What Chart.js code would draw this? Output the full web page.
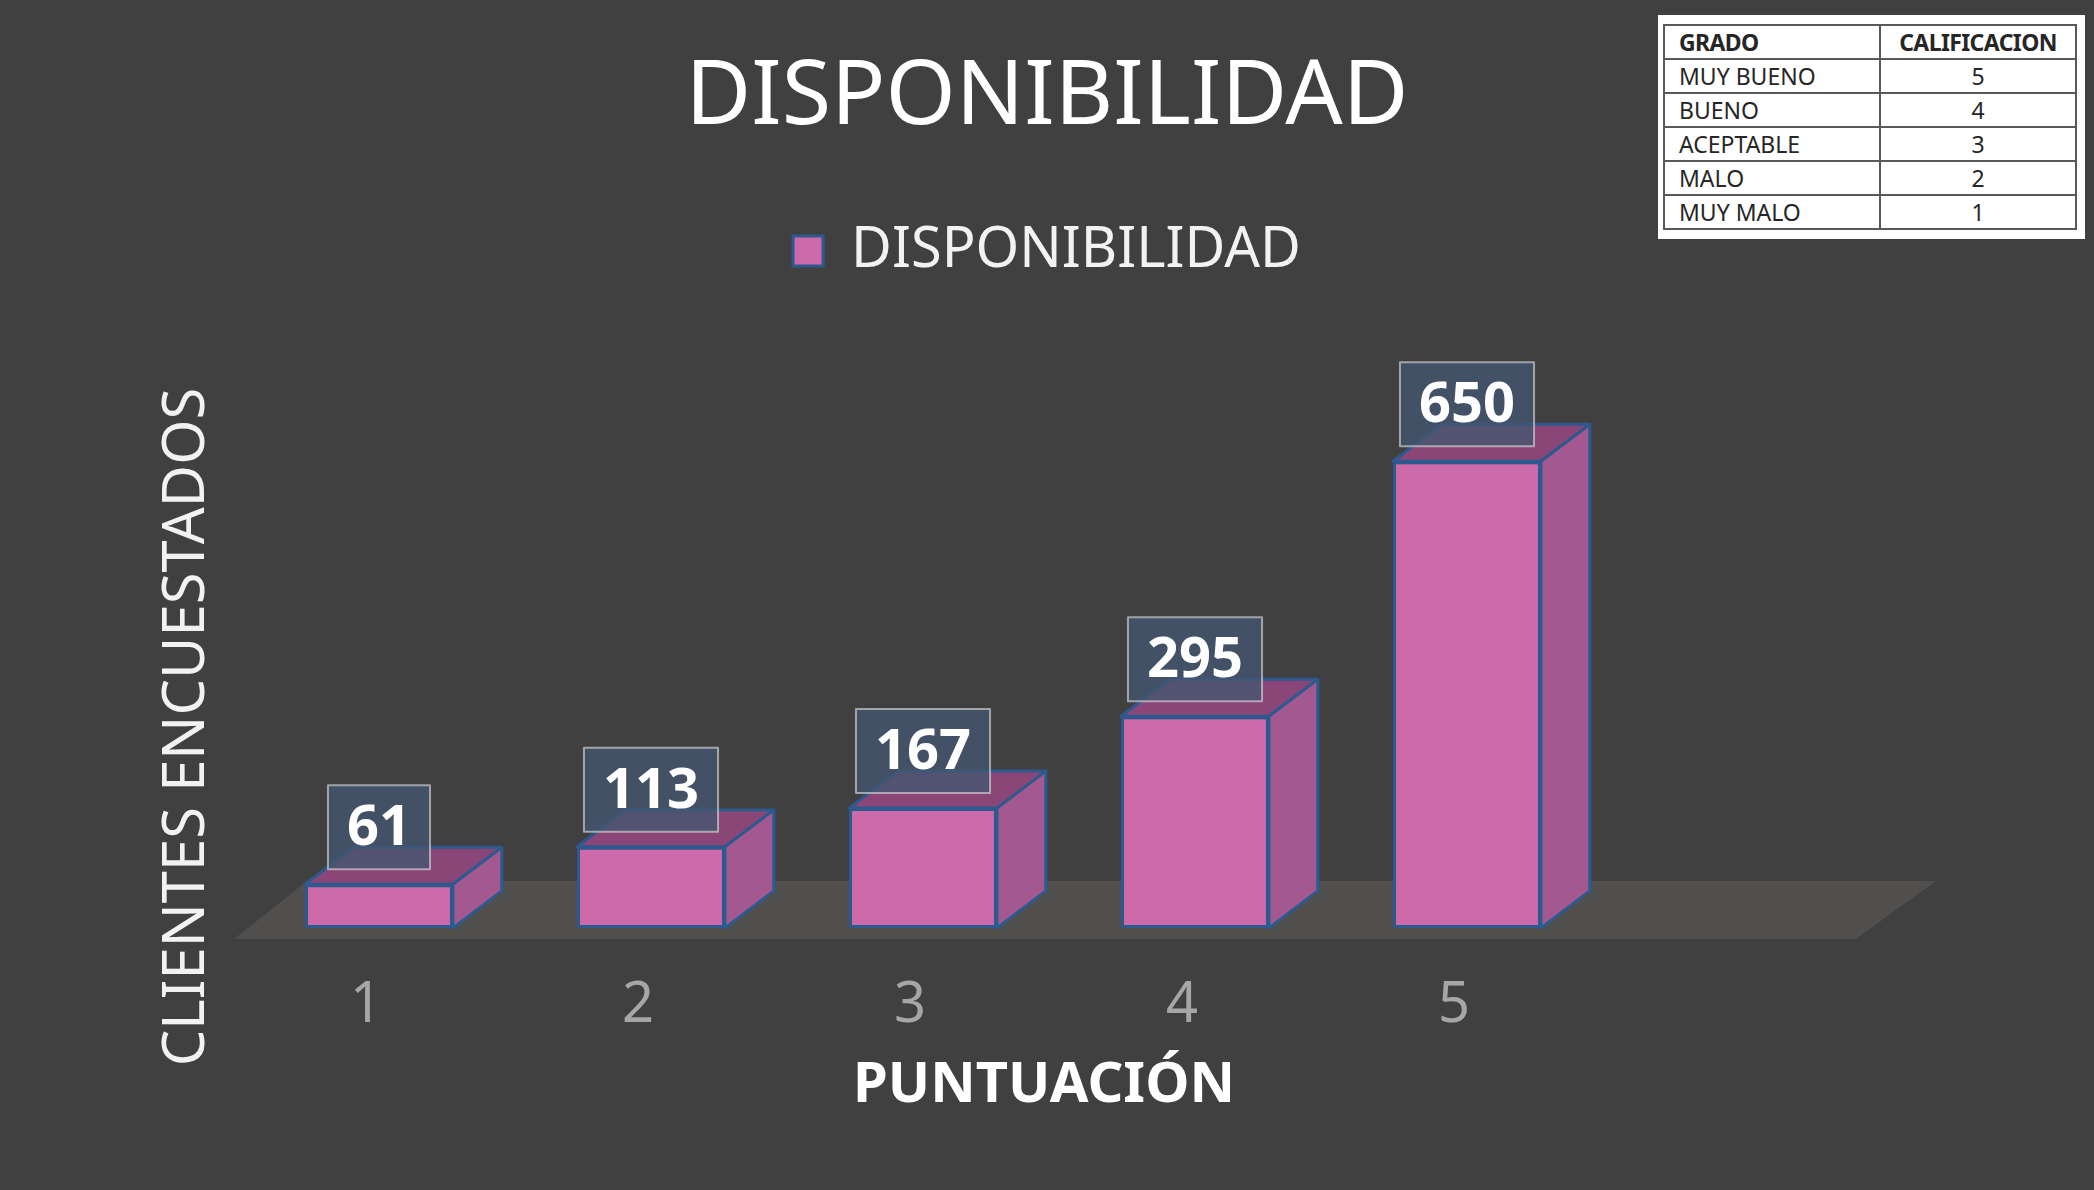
<!DOCTYPE html>
<html>
<head>
<meta charset="utf-8">
<title>Disponibilidad</title>
<script src="https://cdn.jsdelivr.net/npm/chart.js@4.4.1/dist/chart.umd.min.js"></script>
<style>
  html, body { margin: 0; padding: 0; background: #404040; }
  #wrap { position: relative; width: 2094px; height: 1190px; overflow: hidden; }
  #grafico { position: absolute; left: 0; top: 0; }
  #tabla {
    position: absolute; left: 1658px; top: 15px; width: 427px; height: 224px;
    background: #fff; box-sizing: border-box; padding: 9px 8px 9px 5px;
  }
  #tabla table {
    width: 414px; height: 206px; border-collapse: collapse;
    font-family: "Noto Sans", sans-serif; font-size: 23px; color: #262626;
  }
  #tabla td { border: 2px solid #595959; padding: 0 0 0 14px; line-height: 1; white-space: nowrap; }
  #tabla td.num { text-align: center; padding: 0; }
  #tabla tr.cab td { font-weight: bold; letter-spacing: -0.6px; }
</style>
</head>
<body>
<div id="wrap">
  <canvas id="grafico" width="2094" height="1190"></canvas>
  <div id="tabla"><table id="tablaBody"></table></div>
</div>
<script>
// datos del grafico
const categorias = ['1', '2', '3', '4', '5'];
const clientes = [61, 113, 167, 295, 650];
const serieNombre = 'DISPONIBILIDAD';
const tituloX = 'PUNTUACIÓN';
const tituloY = 'CLIENTES ENCUESTADOS';

// tabla de calificacion
const tablaCabecera = ['GRADO', 'CALIFICACION'];
const tablaGrado = ['MUY BUENO', 'BUENO', 'ACEPTABLE', 'MALO', 'MUY MALO'];
const tablaCalif = [5, 4, 3, 2, 1];

// colores
const colorFrente = '#cc6aaa';
const colorTapa = '#8a4677';
const colorLado = '#a3598f';
const colorBorde = '#2d5a8e';
const colorPiso = '#514e4e';

// Render Table
function renderTabla() {
    const tbody = document.getElementById('tablaBody');
    let html = `<tr class="cab"><td style="width:200px">${tablaCabecera[0]}</td><td class="num">${tablaCabecera[1]}</td></tr>`;
    tablaGrado.forEach((g, i) => {
        html += `<tr><td>${g}</td><td class="num">${tablaCalif[i]}</td></tr>`;
    });
    tbody.innerHTML = html;
}

// caras 3D, piso y etiquetas
const cubo3d = {
    id: 'cubo3d',
    beforeDatasetsDraw(chart) {
        const {ctx, chartArea} = chart;
        const y0 = chart.scales.y.getPixelForValue(0);
        ctx.save();
        ctx.fillStyle = colorPiso;
        ctx.beginPath();
        ctx.moveTo(chartArea.left - 9, y0 + 11);
        ctx.lineTo(chartArea.right + 253, y0 + 11);
        ctx.lineTo(chartArea.right + 333, y0 - 47);
        ctx.lineTo(chartArea.left + 64, y0 - 47);
        ctx.closePath();
        ctx.fill();
        ctx.restore();
    },
    afterDatasetsDraw(chart) {
        const {ctx} = chart;
        const meta = chart.getDatasetMeta(0);
        ctx.save();
        ctx.lineWidth = 3;
        ctx.lineJoin = 'round';
        ctx.strokeStyle = colorBorde;
        meta.data.forEach((bar) => {
            const {x, y, base, width} = bar.getProps(['x', 'y', 'base', 'width'], true);
            const l = x - width / 2, r = x + width / 2;
            const dx = width * 0.33, dy = width * 0.25;
            // tapa
            ctx.fillStyle = colorTapa;
            ctx.beginPath();
            ctx.moveTo(l, y);
            ctx.lineTo(l + dx, y - dy);
            ctx.lineTo(r + dx, y - dy);
            ctx.lineTo(r, y);
            ctx.closePath();
            ctx.fill();
            ctx.stroke();
            // lado
            ctx.fillStyle = colorLado;
            ctx.beginPath();
            ctx.moveTo(r, y);
            ctx.lineTo(r + dx, y - dy);
            ctx.lineTo(r + dx, base - dy);
            ctx.lineTo(r, base);
            ctx.closePath();
            ctx.fill();
            ctx.stroke();
        });
        // etiquetas de datos
        ctx.font = 'bold 56px "Noto Sans"';
        ctx.textAlign = 'center';
        ctx.textBaseline = 'middle';
        meta.data.forEach((bar, i) => {
            const {x, y} = bar.getProps(['x', 'y'], true);
            const txt = String(clientes[i]);
            const w = ctx.measureText(txt).width + 38;
            const h = 84;
            const bottom = y - 15;
            ctx.fillStyle = 'rgba(66,86,112,0.78)';
            ctx.fillRect(x - w / 2, bottom - h, w, h);
            ctx.strokeStyle = 'rgba(215,215,215,0.65)';
            ctx.lineWidth = 2;
            ctx.strokeRect(x - w / 2, bottom - h, w, h);
            ctx.fillStyle = '#ffffff';
            ctx.fillText(txt, x, bottom - h / 2 + 2);
        });
        ctx.restore();
    },
    afterDraw(chart) {
        const {ctx, chartArea} = chart;
        ctx.save();
        ctx.textAlign = 'center';
        ctx.textBaseline = 'middle';
        // titulo eje x (centrado en el ancho total, como en Excel)
        ctx.font = 'bold 56px "Noto Sans"';
        ctx.fillStyle = '#ffffff';
        ctx.fillText(tituloX, chart.width / 2 - 3, chartArea.bottom + 158);
        // titulo eje y
        ctx.translate(chartArea.left - 56, chartArea.bottom - 201);
        ctx.rotate(-Math.PI / 2);
        ctx.font = '58px "Noto Sans"';
        ctx.fillStyle = '#f2f2f2';
        ctx.fillText(tituloY, 0, 0);
        ctx.restore();
    }
};

function renderGrafico() {
    const ctx = document.getElementById('grafico').getContext('2d');
    new Chart(ctx, {
        type: 'bar',
        data: {
            labels: categorias,
            datasets: [{
                label: serieNombre,
                data: clientes,
                backgroundColor: colorFrente,
                borderColor: colorBorde,
                borderWidth: 3,
                borderSkipped: false,
                categoryPercentage: 1,
                barPercentage: 0.544
            }]
        },
        options: {
            responsive: false,
            animation: false,
            devicePixelRatio: 1,
            layout: { padding: { left: 0, right: 0, top: 4, bottom: 70 } },
            plugins: {
                title: {
                    display: true,
                    text: 'DISPONIBILIDAD',
                    color: '#ffffff',
                    font: { family: 'Noto Sans', size: 90, weight: 'normal' },
                    padding: { top: 40, bottom: 61 }
                },
                legend: {
                    display: true,
                    labels: {
                        color: '#f2f2f2',
                        font: { family: 'Noto Sans', size: 56 },
                        boxWidth: 30,
                        boxHeight: 30,
                        padding: 10
                    }
                },
                tooltip: { enabled: false }
            },
            scales: {
                x: {
                    grid: { display: false, drawTicks: false },
                    border: { display: false },
                    ticks: {
                        color: '#a6a6a6',
                        font: { family: 'Noto Sans', size: 56 },
                        padding: 44,
                        labelOffset: -13,
                        maxRotation: 0
                    },
                    afterFit(scale) { scale.height = 192; }
                },
                y: {
                    position: 'left',
                    min: 0,
                    max: 890,
                    grid: { display: false, drawTicks: false },
                    border: { display: false },
                    ticks: { display: false },
                    afterFit(scale) { scale.width = 243; }
                },
                yDer: {
                    position: 'right',
                    grid: { display: false, drawTicks: false },
                    border: { display: false },
                    ticks: { display: false },
                    afterFit(scale) { scale.width = 491; }
                }
            }
        },
        plugins: [cubo3d]
    });
}

renderTabla();
renderGrafico();
</script>
</body>
</html>
